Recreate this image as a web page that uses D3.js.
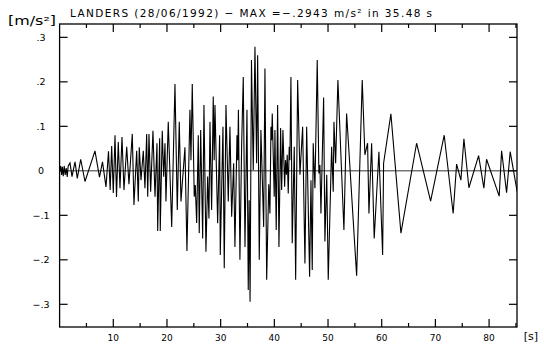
<!DOCTYPE html>
<html lang="en">
<head>
<meta charset="UTF-8">
<title>LANDERS accelerogram</title>
<script src="https://d3js.org/d3.v7.min.js"></script>
<style>
  body { margin: 0; background: #fff; }
  svg text { font-family: "DejaVu Sans", sans-serif; fill: #000; }
</style>
</head>
<body>
<script>
// chart size
const width = 544, height = 349;
const plot = { left: 59.6, right: 517, top: 24, bottom: 327 };

// time [s] of each vertex of the trace
const times = [
  0.00, 0.22, 0.37, 0.52, 0.67, 0.86, 1.04, 1.23, 1.42, 1.60,
  1.94, 2.31, 2.87, 3.30, 3.93, 4.73, 6.59, 7.43, 7.99, 8.64,
  9.11, 9.42, 9.70, 10.00, 10.32, 10.60, 10.93, 11.25, 11.62, 11.99,
  12.50, 12.92, 13.54, 13.85, 14.36, 14.66, 14.84, 15.16, 15.59, 15.90,
  16.22, 16.41, 16.65, 16.96, 17.39, 17.77, 18.14, 18.27, 18.64, 18.75,
  19.12, 19.39, 19.63, 19.81, 20.24, 20.88, 21.49, 21.92, 22.29, 22.61,
  23.35, 23.72, 24.28, 24.47, 24.71, 25.08, 25.27, 25.53, 25.83, 26.01,
  26.28, 26.65, 26.89, 27.26, 27.58, 27.82, 28.01, 28.32, 28.62, 28.79,
  28.94, 29.44, 29.81, 29.93, 30.43, 30.67, 30.99, 31.42, 31.73, 32.05,
  32.42, 32.66, 33.04, 33.18, 33.31, 33.59, 33.91, 34.21, 34.53, 34.90,
  35.14, 35.31, 35.48, 35.74, 36.07, 36.39, 36.70, 36.89, 37.19, 37.50,
  38.01, 38.25, 38.57, 38.96, 39.18, 39.37, 39.50, 39.61, 39.98, 40.11,
  40.35, 40.61, 40.86, 41.17, 41.36, 41.60, 41.92, 42.07, 42.25, 42.40,
  42.59, 42.77, 42.90, 43.09, 43.33, 43.71, 43.97, 44.34, 44.77, 45.27,
  45.70, 46.02, 46.57, 46.82, 47.06, 47.24, 47.56, 47.99, 48.30, 48.49,
  48.68, 49.18, 49.42, 49.76, 50.04, 50.67, 50.97, 51.10, 51.42, 51.84,
  52.96, 53.46, 55.33, 56.37, 56.87, 57.37, 57.62, 58.12, 58.60, 59.48,
  60.17, 60.35, 61.71, 63.58, 66.50, 69.11, 71.64, 73.31, 73.95, 74.75,
  75.31, 76.24, 78.05, 79.03, 79.53, 81.88, 82.33, 83.26, 83.93, 85.23
];

// acceleration [m/s²] at each vertex
const accel = [
  0.000, 0.011, -0.009, 0.009, -0.012, 0.011, -0.009, 0.006, -0.014, 0.011,
  0.018, -0.013, 0.020, -0.017, 0.026, -0.024, 0.045, -0.014, 0.020, -0.036,
  0.044, -0.043, 0.056, -0.050, 0.080, -0.059, 0.065, -0.039, 0.076, -0.043,
  0.054, -0.030, 0.083, -0.077, 0.045, -0.069, 0.053, -0.021, 0.045, -0.039,
  0.083, -0.058, 0.083, -0.047, 0.090, -0.058, 0.062, -0.135, 0.073, -0.135,
  0.090, -0.013, 0.062, -0.069, 0.110, -0.126, 0.195, -0.088, 0.110, -0.069,
  0.053, -0.180, 0.137, 0.024, 0.195, -0.058, -0.032, -0.117, 0.080, -0.140,
  0.092, -0.152, 0.148, -0.182, -0.013, -0.107, 0.110, -0.088, 0.167, 0.024,
  0.148, -0.118, 0.080, -0.189, 0.099, -0.219, 0.148, -0.069, 0.099, -0.103,
  0.017, -0.171, 0.080, 0.024, 0.137, -0.200, 0.058, 0.211, -0.171, 0.137,
  -0.268, -0.066, -0.2943, 0.249, 0.002, 0.279, 0.017, 0.260, -0.200, 0.092,
  -0.126, 0.230, -0.245, -0.030, -0.096, 0.099, 0.069, 0.129, -0.058, 0.092,
  -0.133, 0.148, -0.171, 0.096, -0.043, 0.092, -0.036, 0.024, -0.009, 0.036,
  -0.051, 0.054, 0.024, 0.211, -0.163, 0.054, -0.245, 0.204, -0.009, 0.099,
  -0.208, 0.099, -0.238, -0.021, -0.223, 0.062, -0.039, 0.249, -0.006, 0.013,
  -0.096, 0.165, -0.159, -0.009, -0.245, 0.054, -0.047, 0.110, 0.017, 0.204,
  -0.133, 0.129, -0.236, 0.204, 0.036, 0.062, -0.096, 0.062, -0.152, 0.043,
  -0.189, 0.017, 0.128, -0.140, 0.062, -0.068, 0.080, -0.096, 0.015, -0.021,
  0.072, -0.038, 0.034, -0.039, 0.026, -0.057, 0.045, -0.049, 0.043, -0.047
];

// axis ticks and labels
const xMajor = [10, 20, 30, 40, 50, 60, 70, 80];
const xMinor = [5, 15, 25, 35, 45, 55, 65, 75, 85];
const yTicks = [-0.3, -0.2, -0.1, 0, 0.1, 0.2, 0.3];
const yLabels = ["\u2212.3", "\u2212.2", "\u2212.1", "0", ".1", ".2", ".3"];
const title = "LANDERS (28/06/1992) \u2212 MAX =\u2212.2943 m/s\u00b2 in 35.48 s";

const svg = d3.select("body").append("svg")
  .attr("width", width)
  .attr("height", height);

const x = d3.scaleLinear().domain([0, 85.2]).range([plot.left, plot.right]);
const y = d3.scaleLinear().domain([-0.351, 0.33]).range([plot.bottom, plot.top]);

// clip for the trace
svg.append("clipPath").attr("id", "clip")
  .append("rect")
  .attr("x", plot.left).attr("y", plot.top)
  .attr("width", plot.right - plot.left)
  .attr("height", plot.bottom - plot.top);

// zero line
svg.append("line")
  .attr("x1", plot.left).attr("x2", plot.right)
  .attr("y1", y(0)).attr("y2", y(0))
  .attr("stroke", "#333").attr("stroke-width", 1);

// trace
const pts = times.map((t, i) => [t, accel[i]]);
svg.append("path")
  .datum(pts)
  .attr("clip-path", "url(#clip)")
  .attr("fill", "none")
  .attr("stroke", "#000")
  .attr("stroke-width", 1.1)
  .attr("stroke-linejoin", "miter")
  .attr("d", d3.line().x(d => x(d[0])).y(d => y(d[1])));

// frame
svg.append("rect")
  .attr("x", plot.left).attr("y", plot.top)
  .attr("width", plot.right - plot.left)
  .attr("height", plot.bottom - plot.top)
  .attr("fill", "none")
  .attr("stroke", "#000")
  .attr("stroke-width", 1.3);

// x ticks, bottom and top
const tickG = svg.append("g").attr("stroke", "#000").attr("stroke-width", 1.2);
[[xMajor, 8], [xMinor, 4]].forEach(([vals, len]) => {
  tickG.selectAll(null).data(vals).enter().append("line")
    .attr("x1", d => x(d)).attr("x2", d => x(d))
    .attr("y1", plot.bottom).attr("y2", plot.bottom - len);
  tickG.selectAll(null).data(vals).enter().append("line")
    .attr("x1", d => x(d)).attr("x2", d => x(d))
    .attr("y1", plot.top).attr("y2", plot.top + len);
});

// y ticks, left and right
tickG.selectAll(null).data(yTicks).enter().append("line")
  .attr("x1", plot.left).attr("x2", plot.left + 8)
  .attr("y1", d => y(d)).attr("y2", d => y(d));
tickG.selectAll(null).data(yTicks).enter().append("line")
  .attr("x1", plot.right).attr("x2", plot.right - 8)
  .attr("y1", d => y(d)).attr("y2", d => y(d));

// tick labels
svg.selectAll(".xl").data(xMajor).enter().append("text")
  .attr("class", "xl")
  .attr("x", d => x(d)).attr("y", 341)
  .attr("text-anchor", "middle")
  .attr("font-size", 9)
  .text(d => d);

svg.selectAll(".yl").data(yTicks).enter().append("text")
  .attr("class", "yl")
  .attr("x", 41).attr("y", d => y(d) + 3.2)
  .attr("text-anchor", "middle")
  .attr("font-size", 9.5)
  .text((d, i) => yLabels[i]);

// units and title
svg.append("text")
  .attr("x", 8).attr("y", 25)
  .attr("font-size", 11.5)
  .attr("textLength", 48).attr("lengthAdjust", "spacingAndGlyphs")
  .text("[m/s\u00b2]");

svg.append("text")
  .attr("x", 531).attr("y", 340)
  .attr("text-anchor", "middle")
  .attr("font-size", 11)
  .text("[s]");

svg.append("text")
  .attr("x", 70).attr("y", 17)
  .attr("font-size", 10.5)
  .attr("textLength", 362).attr("lengthAdjust", "spacing")
  .text(title);
</script>
</body>
</html>
